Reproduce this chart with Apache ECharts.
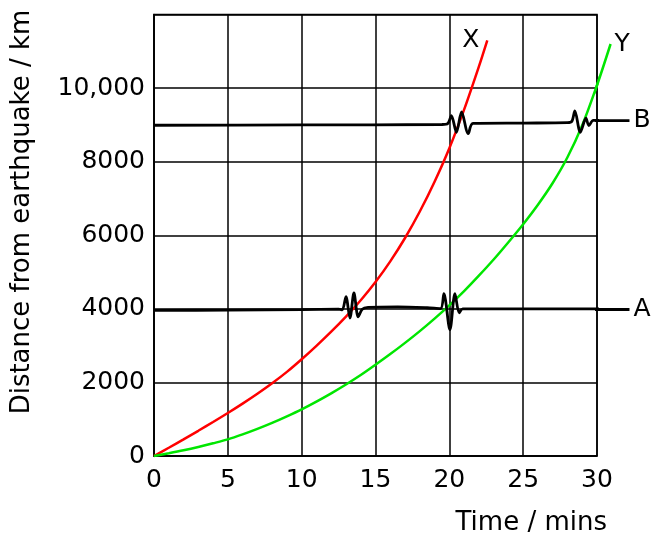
<!DOCTYPE html>
<html><head><meta charset="utf-8">
<script src="https://cdn.jsdelivr.net/npm/echarts@6/dist/echarts.min.js"></script>
<style>html,body{margin:0;padding:0;background:#fff}#c{width:659px;height:536px}</style>
</head><body><div id="c"></div>
<script>
// Travel-time curves: [time (mins), distance (km)]
const curveX = [[0,0],[1,225],[2,453],[3,685],[4,923],[5,1168],[6,1423],[7,1691],[8,1976],[9,2286],[10,2630],[11,2995],[12,3380],[13,3790],[14,4235],[15,4730],[16,5290],[17,5925],[18,6645],[19,7455],[20,8365],[21,9415],[22,10585],[22.57,11300]];
const curveY = [[0,0],[1,75],[2,155],[3,245],[4,345],[5,452],[6,587],[7,737],[8,900],[9,1078],[10,1268],[11,1478],[12,1703],[13,1943],[14,2200],[15,2480],[16,2770],[17,3075],[18,3395],[19,3735],[20,4095],[21,4480],[22,4900],[23,5340],[24,5810],[25,6300],[26,6830],[27,7420],[28,8120],[29,8990],[30,10080],[30.92,11200]];
// Seismograph traces at stations A and B
const traceA = [[0,3960],[5,3965],[10,3980],[12.5,3990],[12.75,3975],[13.0,4330],[13.27,3750],[13.54,4430],[13.83,3780],[14.1,3990],[14.5,4040],[16.5,4055],[18.5,4030],[19.4,4005],[19.63,4410],[20.04,3430],[20.38,4410],[20.67,3890],[20.9,4000],[25,4000],[32.2,4000]];
const traceB = [[0,8990],[10,9000],[19.5,9010],[19.9,9040],[20.14,9250],[20.48,8800],[20.83,9350],[21.28,8760],[21.6,9040],[25,9050],[28.0,9060],[28.3,9100],[28.5,9380],[28.87,8800],[29.25,9180],[29.45,8980],[29.75,9120],[32.2,9120]];
const seriesNames = ['X','Y','A','B'];
const xTicks = [0,5,10,15,20,25,30];
const yTicks = [0,2000,4000,6000,8000,10000];
const yTickLabels = ['0','2000','4000','6000','8000','10,000'];

const FONT = 'DejaVu Sans';
const X_MAX = 30, X_EXT = 32.5;
const chart = echarts.init(document.getElementById('c'), null, {renderer:'canvas'});
const gridLeft = 154, gridTop = 14.5, gridRight = 62, gridBottom = 79;
const plotW = 659 - gridLeft - gridRight;
const extW = plotW / X_MAX * (X_EXT - X_MAX);

function withEndLabel(data, name, labelOpts) {
  return data.map((p, i) => (labelOpts && i === data.length - 1)
    ? {value:p, label:Object.assign({show:true, formatter:name, color:'#000', fontFamily:FONT, fontSize:25}, labelOpts)}
    : {value:p});
}
function lineSeries(name, data, color, width, smooth, gridIdx, labelOpts) {
  return {
    name, type:'line', data:withEndLabel(data, name, labelOpts), smooth,
    xAxisIndex:gridIdx, yAxisIndex:gridIdx,
    symbol:'circle', symbolSize:0, showSymbol:true, showAllSymbol:true, clip:false,
    itemStyle:{color}, lineStyle:{color, width}, animation:false,
    label:{show:false}, emphasis:{disabled:true}, tooltip:{show:false}
  };
}
chart.setOption({
  animation:false,
  grid:[
    {left:gridLeft, top:gridTop, right:gridRight, bottom:gridBottom, show:true, borderColor:'#000', borderWidth:1.5},
    {left:gridLeft + plotW, top:gridTop, width:extW, bottom:gridBottom, show:false}
  ],
  xAxis:[{type:'value', gridIndex:0, min:0, max:X_MAX, interval:5,
    axisLine:{show:true, lineStyle:{color:'#000', width:1.5}}, axisTick:{show:false},
    splitLine:{show:true, lineStyle:{color:'#000', width:1.5}},
    axisLabel:{color:'#000', fontFamily:FONT, fontSize:25, margin:12,
      formatter:v => xTicks.includes(v) ? String(v) : ''},
    name:'Time / mins', nameLocation:'end', nameGap:10,
    nameTextStyle:{color:'#000', fontFamily:FONT, fontSize:26, align:'right', verticalAlign:'top', padding:[54,0,0,0]}
  },{type:'value', gridIndex:1, min:X_MAX, max:X_EXT, show:false}],
  yAxis:[{type:'value', gridIndex:0, min:0, max:12000, interval:2000,
    axisLine:{show:true, lineStyle:{color:'#000', width:1.5}}, axisTick:{show:false},
    splitLine:{show:true, lineStyle:{color:'#000', width:1.5}},
    axisLabel:{color:'#000', fontFamily:FONT, fontSize:25, margin:9,
      formatter:v => { const i = yTicks.indexOf(v); return i >= 0 ? yTickLabels[i] : ''; }}
  },{type:'value', gridIndex:1, min:0, max:12000, show:false}],
  graphic:[{type:'text', x:22, y:212, rotation:Math.PI/2,
    style:{text:'Distance from earthquake / km', fill:'#000', font:'26px "DejaVu Sans"', align:'center', verticalAlign:'middle'}}],
  series:[
    lineSeries(seriesNames[0], curveX, '#ff0000', 2.5, 0.3, 0, {position:'left', distance:8}),
    lineSeries(seriesNames[1], curveY, '#00e600', 2.5, 0.3, 0, null),
    lineSeries(seriesNames[2], traceA, '#000', 2.8, 0.3, 0, null),
    lineSeries(seriesNames[3], traceB, '#000', 2.8, 0.3, 0, null),
    lineSeries(seriesNames[1], curveY, '#00e600', 2.5, 0.3, 1, {position:'right', distance:4}),
    lineSeries(seriesNames[2], traceA, '#000', 2.8, 0.3, 1, {position:'right', distance:4}),
    lineSeries(seriesNames[3], traceB, '#000', 2.8, 0.3, 1, {position:'right', distance:4})
  ]
});
</script></body></html>
